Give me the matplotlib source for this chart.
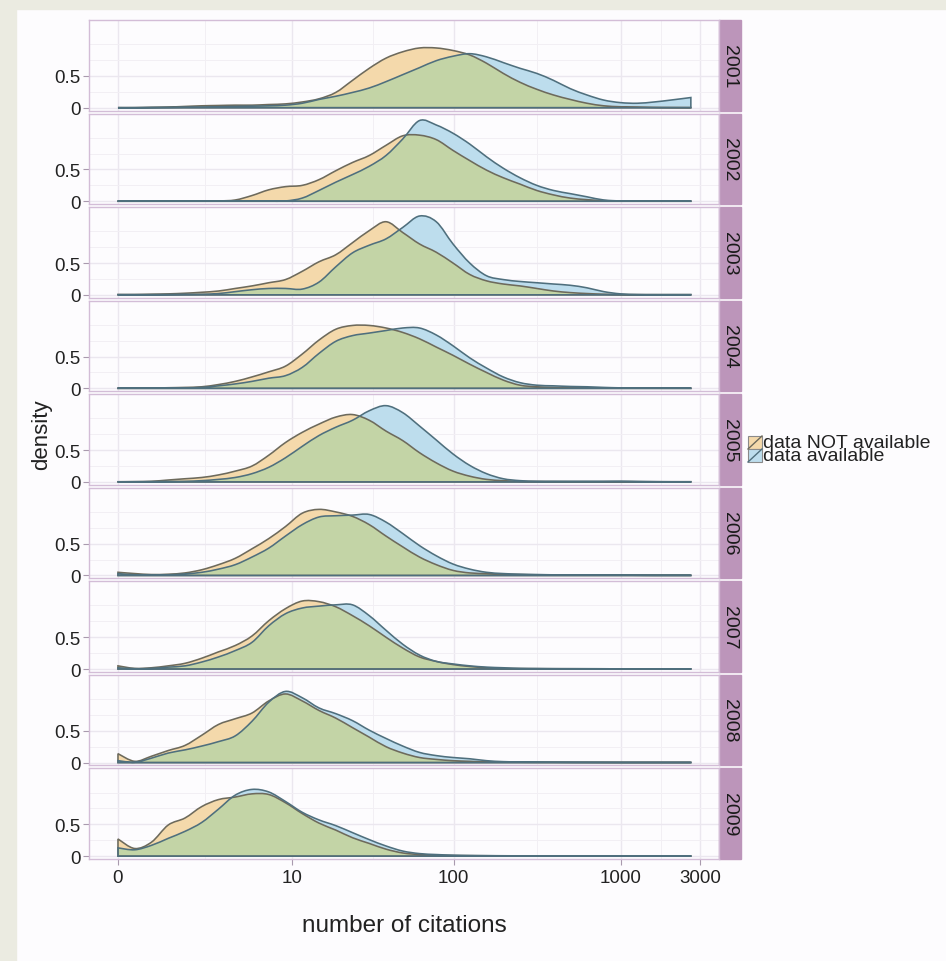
import matplotlib
matplotlib.use('Agg')
import matplotlib.pyplot as plt
import numpy as np
from matplotlib.patches import Rectangle, PathPatch
from matplotlib.lines import Line2D
from matplotlib.path import Path

plt.rcParams['font.family'] = ['Liberation Sans', 'DejaVu Sans']

# x positions of the density estimates, in log10(citations + 1)
log_cites = [0.0, 0.1, 0.2, 0.3, 0.4, 0.5, 0.6, 0.7, 0.8, 0.9,
             1.0, 1.1, 1.2, 1.3, 1.4, 1.5, 1.6, 1.7, 1.8, 1.9,
             2.0, 2.1, 2.2, 2.3, 2.4, 2.5, 2.6, 2.7, 2.8, 2.9,
             3.0, 3.1, 3.2, 3.3, 3.42]

years = [2001, 2002, 2003, 2004, 2005, 2006, 2007, 2008, 2009]
tick_cites = [0, 10, 100, 1000, 3000]
series_labels = ['data NOT available', 'data available']

# "data NOT available" densities per year
na01 = [0, 0, 0.005, 0.01, 0.02, 0.03, 0.035, 0.04, 0.04, 0.05, 0.06, 0.09, 0.14, 0.24, 0.43, 0.62, 0.78, 0.88,
        0.94, 0.94, 0.9, 0.83, 0.7, 0.54, 0.4, 0.29, 0.2, 0.13, 0.07, 0.03, 0.015, 0.01, 0.005, 0.003, 0.002]
na02 = [0.003, 0.003, 0.003, 0.003, 0.003, 0.003, 0.005, 0.02, 0.09, 0.18, 0.23, 0.25, 0.34, 0.48, 0.61, 0.72, 0.88,
        1.03, 1.04, 0.97, 0.8, 0.64, 0.49, 0.37, 0.27, 0.17, 0.1, 0.05, 0.025, 0.01, 0.005, 0.003, 0.003, 0.003, 0.003]
na03 = [0.005, 0.005, 0.01, 0.015, 0.025, 0.04, 0.06, 0.1, 0.14, 0.19, 0.24, 0.37, 0.52, 0.63, 0.82, 1.01, 1.15,
        0.98, 0.8, 0.67, 0.5, 0.32, 0.22, 0.17, 0.14, 0.1, 0.06, 0.035, 0.02, 0.01, 0.005, 0.003, 0.003, 0.003, 0.003]
na04 = [0.005, 0.005, 0.005, 0.01, 0.015, 0.025, 0.06, 0.11, 0.18, 0.26, 0.35, 0.54, 0.76, 0.93, 0.99, 0.99, 0.95,
        0.88, 0.78, 0.65, 0.52, 0.38, 0.25, 0.13, 0.05, 0.025, 0.015, 0.01, 0.008, 0.005, 0.003, 0.003, 0.003, 0.003, 0.003]
na05 = [0.003, 0.005, 0.01, 0.03, 0.05, 0.07, 0.11, 0.17, 0.25, 0.42, 0.62, 0.78, 0.91, 1.02, 1.06, 0.97, 0.8,
        0.65, 0.46, 0.3, 0.17, 0.09, 0.04, 0.02, 0.01, 0.008, 0.006, 0.005, 0.005, 0.005, 0.005, 0.004, 0.003, 0.003, 0.003]
na06 = [0.05, 0.03, 0.015, 0.02, 0.04, 0.09, 0.17, 0.27, 0.42, 0.58, 0.77, 0.98, 1.04, 1.0, 0.93, 0.8, 0.62,
        0.45, 0.29, 0.17, 0.08, 0.04, 0.03, 0.02, 0.015, 0.01, 0.008, 0.006, 0.005, 0.005, 0.005, 0.004, 0.003, 0.003, 0.003]
na07 = [0.05, 0.01, 0.02, 0.05, 0.09, 0.17, 0.27, 0.37, 0.52, 0.76, 0.95, 1.07, 1.06, 0.98, 0.84, 0.68, 0.5,
        0.33, 0.19, 0.12, 0.07, 0.04, 0.02, 0.01, 0.008, 0.006, 0.005, 0.005, 0.004, 0.004, 0.003, 0.003, 0.003, 0.003, 0.003]
na08 = [0.14, 0.02, 0.1, 0.19, 0.27, 0.43, 0.6, 0.69, 0.78, 0.97, 1.08, 0.97, 0.82, 0.7, 0.55, 0.4, 0.25,
        0.15, 0.08, 0.05, 0.03, 0.02, 0.01, 0.008, 0.006, 0.005, 0.005, 0.004, 0.004, 0.003, 0.003, 0.003, 0.003, 0.003, 0.003]
na09 = [0.27, 0.12, 0.22, 0.49, 0.6, 0.78, 0.89, 0.93, 0.98, 0.97, 0.84, 0.67, 0.52, 0.41, 0.29, 0.2, 0.11,
        0.05, 0.025, 0.015, 0.01, 0.008, 0.006, 0.005, 0.005, 0.004, 0.004, 0.003, 0.003, 0.003, 0.003, 0.003, 0.003, 0.003, 0.003]

# "data available" densities per year
av01 = [0, 0, 0.003, 0.005, 0.008, 0.01, 0.015, 0.02, 0.025, 0.03, 0.04, 0.07, 0.13, 0.18, 0.24, 0.31, 0.41, 0.52,
        0.63, 0.74, 0.81, 0.85, 0.8, 0.71, 0.62, 0.54, 0.43, 0.3, 0.2, 0.12, 0.08, 0.07, 0.09, 0.12, 0.16]
av02 = [0.003, 0.003, 0.003, 0.003, 0.003, 0.003, 0.003, 0.003, 0.003, 0.003, 0.005, 0.05, 0.17, 0.3, 0.42, 0.55, 0.72,
        0.98, 1.27, 1.2, 1.07, 0.9, 0.7, 0.52, 0.37, 0.25, 0.17, 0.12, 0.07, 0.02, 0.005, 0.003, 0.003, 0.003, 0.003]
av03 = [0.003, 0.003, 0.003, 0.005, 0.008, 0.01, 0.02, 0.05, 0.08, 0.1, 0.1, 0.09, 0.2, 0.44, 0.66, 0.78, 0.88,
        1.06, 1.24, 1.15, 0.8, 0.5, 0.3, 0.24, 0.21, 0.19, 0.17, 0.15, 0.11, 0.05, 0.015, 0.005, 0.003, 0.003, 0.003]
av04 = [0.003, 0.003, 0.003, 0.005, 0.008, 0.015, 0.04, 0.07, 0.11, 0.16, 0.2, 0.33, 0.55, 0.74, 0.83, 0.87, 0.91,
        0.95, 0.95, 0.84, 0.67, 0.48, 0.32, 0.18, 0.09, 0.05, 0.04, 0.03, 0.025, 0.015, 0.008, 0.005, 0.003, 0.003, 0.003]
av05 = [0.002, 0.003, 0.005, 0.008, 0.01, 0.02, 0.04, 0.07, 0.13, 0.23, 0.38, 0.56, 0.73, 0.86, 0.97, 1.12, 1.2,
        1.09, 0.88, 0.66, 0.44, 0.26, 0.13, 0.05, 0.02, 0.01, 0.01, 0.01, 0.01, 0.01, 0.012, 0.008, 0.005, 0.003, 0.003]
av06 = [0.03, 0.01, 0.005, 0.01, 0.025, 0.05, 0.1, 0.17, 0.29, 0.43, 0.62, 0.8, 0.92, 0.94, 0.95, 0.96, 0.84,
        0.66, 0.47, 0.31, 0.18, 0.1, 0.05, 0.03, 0.02, 0.015, 0.01, 0.008, 0.006, 0.005, 0.005, 0.004, 0.003, 0.003, 0.003]
av07 = [0.02, 0.005, 0.01, 0.03, 0.05, 0.11, 0.19, 0.29, 0.42, 0.68, 0.87, 0.96, 0.99, 1.01, 1.01, 0.84, 0.61,
        0.39, 0.22, 0.12, 0.08, 0.05, 0.03, 0.02, 0.01, 0.008, 0.006, 0.005, 0.005, 0.004, 0.003, 0.003, 0.003, 0.003, 0.003]
av08 = [0.03, 0.005, 0.07, 0.15, 0.2, 0.26, 0.33, 0.42, 0.65, 0.95, 1.12, 1.02, 0.86, 0.77, 0.66, 0.51, 0.38,
        0.26, 0.16, 0.11, 0.08, 0.06, 0.03, 0.015, 0.01, 0.008, 0.006, 0.005, 0.004, 0.004, 0.003, 0.003, 0.003, 0.003, 0.003]
av09 = [0.13, 0.1, 0.17, 0.28, 0.39, 0.53, 0.74, 0.96, 1.05, 1.01, 0.86, 0.69, 0.57, 0.48, 0.37, 0.26, 0.16,
        0.08, 0.04, 0.025, 0.015, 0.01, 0.008, 0.006, 0.005, 0.005, 0.004, 0.004, 0.003, 0.003, 0.003, 0.003, 0.003, 0.003, 0.003]

not_available = [na01, na02, na03, na04, na05, na06, na07, na08, na09]
available = [av01, av02, av03, av04, av05, av06, av07, av08, av09]

ORANGE = '#f4d9ab'
BLUE = '#bddded'
GREEN = '#c3d4a6'
EDGE_O = '#6d6a5c'
EDGE_B = '#4f6f7d'
STRIP = '#bc95ba'
FRAME = '#d3bdd7'
TXT = '#222222'


def density_path(x, y):
    # closed outline: baseline -> smooth curve through the estimates -> baseline
    pts = np.column_stack([x, y])
    n = len(pts)
    verts = [(x[0], 0.0), tuple(pts[0])]
    codes = [Path.MOVETO, Path.LINETO]
    for i in range(n - 1):
        p0, p1 = pts[max(i - 1, 0)], pts[i]
        p2, p3 = pts[i + 1], pts[min(i + 2, n - 1)]
        verts += [tuple(p1 + (p2 - p0) / 6), tuple(p2 - (p3 - p1) / 6), tuple(p2)]
        codes += [Path.CURVE4] * 3
    verts += [(x[-1], 0.0), (x[0], 0.0)]
    codes += [Path.LINETO, Path.CLOSEPOLY]
    return Path(verts, codes)


W, H = 946, 962
fig = plt.figure(figsize=(W / 100, H / 100), dpi=100, facecolor='#fdfcfe')
axes = fig.subplots(len(years), 1, sharex=True)
fig.subplots_adjust(left=89 / W, right=719 / W, top=1 - 21 / H, bottom=1 - 860 / H, hspace=0.033)

# outer beige frame of the screenshot
fig.patches.append(Rectangle((0, 0), 16 / W, 1, transform=fig.transFigure, color='#ebebe1', zorder=-1))
fig.patches.append(Rectangle((0, 1 - 10 / H), 1, 10 / H, transform=fig.transFigure, color='#ebebe1', zorder=-1))

u = np.array(log_cites)
major_x = np.log10(np.array(tick_cites) + 1)
minor_x = (major_x[:-1] + major_x[1:]) / 2
strip_w = 22 / 630

for i, ax in enumerate(axes):
    na_path = density_path(u, np.array(not_available[i]))
    av_path = density_path(u, np.array(available[i]))
    ax.set_facecolor('#fdfcfe')
    ax.set_xlim(-0.173, 3.588)
    ax.set_ylim(-0.045, 1.38)
    ax.set_xticks(major_x)
    ax.set_xticks(minor_x, minor=True)
    ax.set_yticks([0, 0.5])
    ax.set_yticklabels(['0', '0.5'])
    ax.set_yticks([0.25, 0.75, 1.0], minor=True)
    ax.grid(which='major', color='#ebe7ef', lw=1.0)
    ax.grid(which='minor', color='#f2eff4', lw=0.7)
    ax.set_axisbelow(True)
    for s in ax.spines.values():
        s.set_color(FRAME)
        s.set_linewidth(1.0)

    orange = ax.add_patch(PathPatch(na_path, facecolor=ORANGE, edgecolor='none'))
    ax.add_patch(PathPatch(av_path, facecolor=BLUE, edgecolor='none'))
    overlap = PathPatch(av_path, facecolor=GREEN, edgecolor='none')
    overlap.set_clip_path(orange)
    ax.add_patch(overlap)
    ax.add_patch(PathPatch(na_path, facecolor='none', edgecolor=EDGE_O, lw=1.15))
    ax.add_patch(PathPatch(av_path, facecolor='none', edgecolor=EDGE_B, lw=1.15))

    ax.add_patch(Rectangle((1, 0), strip_w, 1, transform=ax.transAxes, facecolor=STRIP,
                           edgecolor=STRIP, clip_on=False))
    ax.text(1 + strip_w / 2, 0.5, str(years[i]), rotation=-90, ha='center', va='center',
            transform=ax.transAxes, fontsize=14, color='#1a1a1a')

    ax.tick_params(axis='y', which='major', length=4, color='#a99aae', labelsize=13.5,
                   pad=2, labelcolor=TXT)
    ax.tick_params(which='minor', length=0)
    if i < len(years) - 1:
        ax.tick_params(axis='x', which='major', length=0)
    else:
        ax.tick_params(axis='x', which='major', length=4, color='#a99aae', labelsize=13.5,
                       pad=3, labelcolor=TXT)
        ax.set_xticklabels([str(t) for t in tick_cites])

fig.text(404 / W, 1 - 926 / H, 'number of citations', ha='center', va='center', fontsize=17.5, color=TXT)
fig.text(42 / W, 1 - 435 / H, 'density', ha='center', va='center', rotation=90, fontsize=16, color=TXT)

# legend keys (ggplot style squares with a diagonal)
colors = [ORANGE, BLUE]
edges = [EDGE_O, EDGE_B]
for k in range(len(series_labels)):
    top = 437 + k * 13
    x0, x1 = 748 / W, 762 / W
    y0, y1 = 1 - (top + 13) / H, 1 - top / H
    fig.patches.append(Rectangle((x0, y0), x1 - x0, y1 - y0, transform=fig.transFigure,
                                 facecolor=colors[k], edgecolor='#8a8a8a', lw=0.8))
    fig.lines.append(Line2D([x0, x1], [y0, y1], transform=fig.transFigure, color=edges[k], lw=1.0))
fig.text(763 / W, 1 - 450 / H, '\n'.join(series_labels), ha='left', va='center', fontsize=14,
         linespacing=0.72, color=TXT)

fig.savefig('out.png', dpi=100, facecolor=fig.get_facecolor())
